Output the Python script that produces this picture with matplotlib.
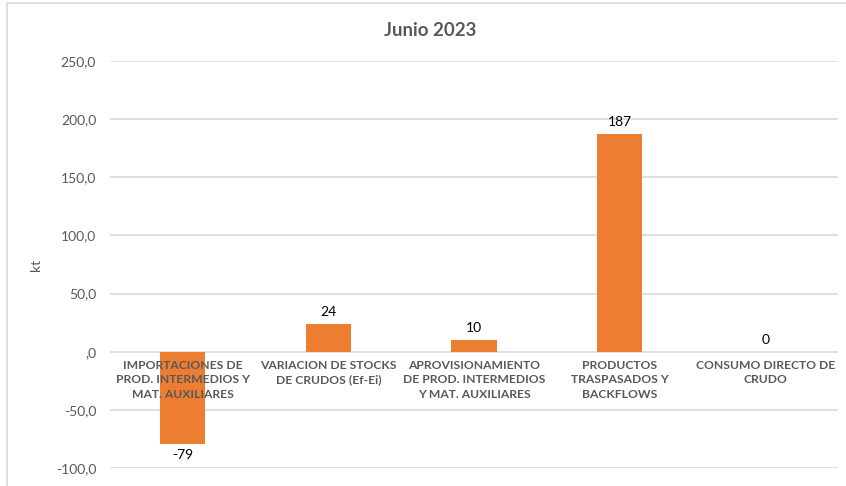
import matplotlib.pyplot as plt
from matplotlib.patches import Rectangle
from matplotlib.ticker import FuncFormatter

plt.rcParams['font.family'] = ['Lato', 'DejaVu Sans']

categorias = [
    'IMPORTACIONES DE\nPROD. INTERMEDIOS Y\nMAT. AUXILIARES',
    'VARIACION DE STOCKS\nDE CRUDOS (Ef-Ei)',
    'APROVISIONAMIENTO\nDE PROD. INTERMEDIOS\nY MAT. AUXILIARES',
    'PRODUCTOS\nTRASPASADOS Y\nBACKFLOWS',
    'CONSUMO DIRECTO DE\nCRUDO',
]
valores = [-79, 24, 10, 187, 0]

gris = '#595959'
naranja = '#ED7D31'

fig = plt.figure(figsize=(8.46, 4.86), dpi=100)
ax = fig.add_axes([0.130, 0.037, 0.8605, 0.8375])

x = range(len(valores))
ax.bar(x, valores, width=0.31, color=naranja, zorder=3)

ax.set_xlim(-0.5, len(valores) - 0.5)
ax.set_ylim(-100, 250)
ax.set_yticks(range(-100, 251, 50))

def fmt(v, pos):
    if v == 0:
        return ',0'
    return f'{v:.1f}'.replace('.', ',')

ax.yaxis.set_major_formatter(FuncFormatter(fmt))
ax.tick_params(axis='y', length=0, labelsize=10, labelcolor=gris, pad=10)
ax.set_xticks([])
ax.grid(axis='y', color='#D9D9D9', linewidth=1.2, zorder=0)
for s in ax.spines.values():
    s.set_visible(False)

# etiquetas de categoria junto al eje cero
for i, cat in enumerate(categorias):
    ax.text(i, -7, cat, ha='center', va='top', fontsize=8.7, fontweight='bold',
            color=gris, linespacing=1.4, zorder=4)

# etiquetas de datos
for i, v in enumerate(valores):
    if v < 0:
        ax.text(i, v - 5, str(v), ha='center', va='top', fontsize=10, color='black')
    else:
        ax.text(i, v + 5, str(v), ha='center', va='bottom', fontsize=10, color='black')

ax.set_ylabel('kt', fontsize=10, color=gris, labelpad=10)
fig.text(430 / 846, 1 - 30 / 486, 'Junio 2023', ha='center', va='center',
         fontsize=13.5, fontweight='bold', color=gris)

# marco del grafico
fig.patches.append(Rectangle((7 / 846, -0.1), 2, 1.1 - 3 / 486, transform=fig.transFigure,
                             fill=False, edgecolor='#D9D9D9', linewidth=1.2))

fig.savefig('out.png', dpi=100)
